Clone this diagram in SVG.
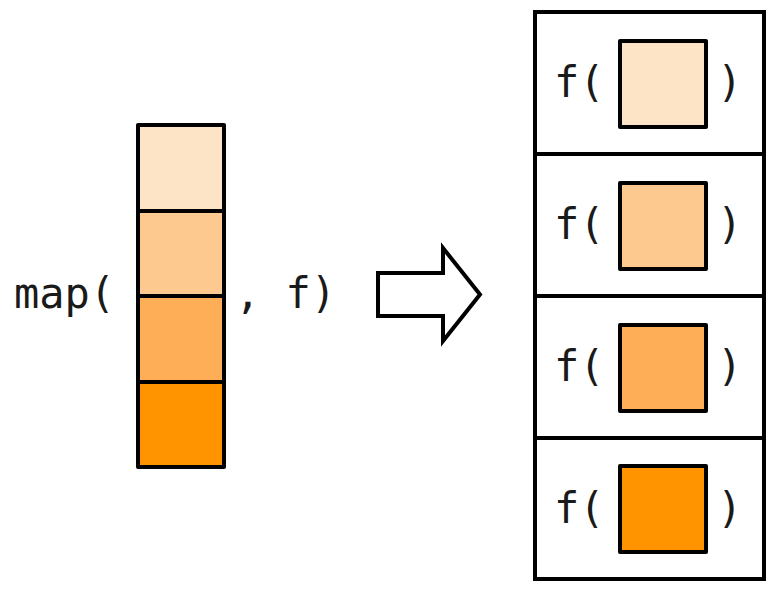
<svg xmlns="http://www.w3.org/2000/svg" width="782" height="594" viewBox="0 0 782 594">
<style>
.t{font-family:"DejaVu Sans Mono",monospace;font-size:42px;fill:#1a1a1a}
.c{stroke:#000;stroke-width:4;stroke-linejoin:round}
.b{fill:#fff;stroke:#000;stroke-width:4}
.c1{fill:#FEE4C6}.c2{fill:#FEC98E}.c3{fill:#FEAE56}.c4{fill:#FF9300}
</style>
<rect width="782" height="594" fill="#fff"/>
<g id="input">
<text class="t" x="14" y="308">map(</text>
<rect class="c c1" x="138" y="125" width="86" height="86"/>
<rect class="c c2" x="138" y="211" width="86" height="85"/>
<rect class="c c3" x="138" y="296" width="86" height="86"/>
<rect class="c c4" x="138" y="382" width="86" height="85"/>
<text class="t" x="235" y="308">, f)</text>
</g>
<g id="connectors">
<path d="M378,273 H443 V248 L480,294.5 L443,341 V316 H378 Z" fill="#fff" stroke="#000" stroke-width="4" stroke-linejoin="miter"/>
</g>
<g id="out1">
<rect class="b" x="535" y="12" width="229" height="142"/>
<text class="t" x="554" y="97">f(</text>
<rect class="c c1" x="620" y="41" width="86" height="86"/>
<text class="t" x="717" y="97">)</text>
</g>
<g id="out2">
<rect class="b" x="535" y="154" width="229" height="142"/>
<text class="t" x="554" y="239">f(</text>
<rect class="c c2" x="620" y="183" width="86" height="86"/>
<text class="t" x="717" y="239">)</text>
</g>
<g id="out3">
<rect class="b" x="535" y="296" width="229" height="142"/>
<text class="t" x="554" y="381">f(</text>
<rect class="c c3" x="620" y="325" width="86" height="86"/>
<text class="t" x="717" y="381">)</text>
</g>
<g id="out4">
<rect class="b" x="535" y="438" width="229" height="141"/>
<text class="t" x="554" y="523">f(</text>
<rect class="c c4" x="620" y="466" width="86" height="86"/>
<text class="t" x="717" y="523">)</text>
</g>
</svg>
